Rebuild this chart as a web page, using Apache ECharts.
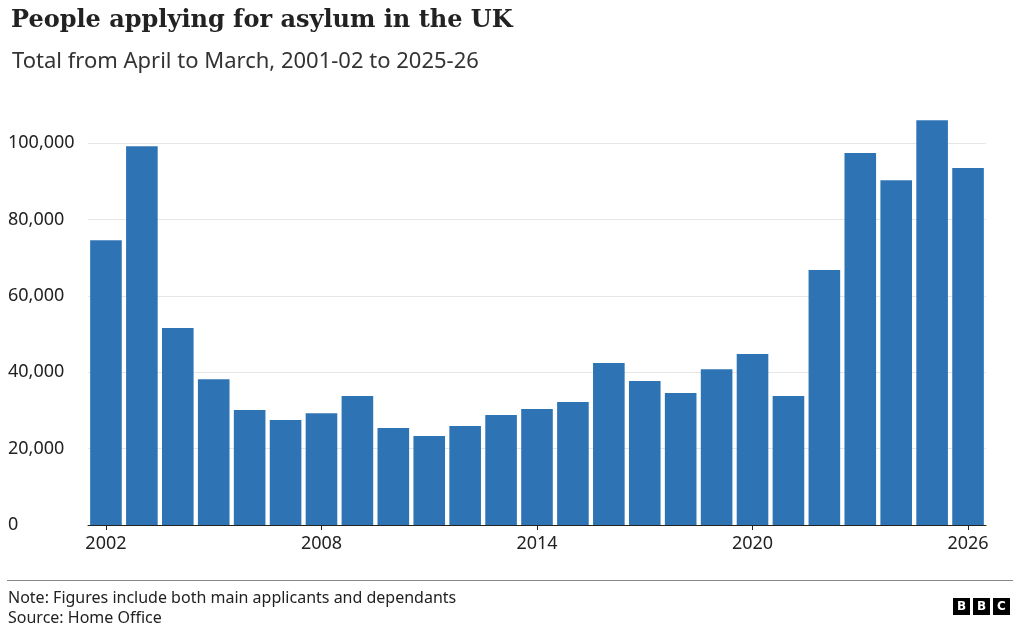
<!DOCTYPE html>
<html><head><meta charset="utf-8">
<script src="https://cdn.jsdelivr.net/npm/echarts@6/dist/echarts.min.js"></script>
<style>html,body{margin:0;padding:0;background:#fff}#c{width:1020px;height:629px}</style>
</head><body><div id="c"></div>
<script>
const years = ['2002','2003','2004','2005','2006','2007','2008','2009','2010','2011','2012','2013','2014','2015','2016','2017','2018','2019','2020','2021','2022','2023','2024','2025','2026'];
const applicants = [74600,99200,51600,38200,30100,27500,29300,33800,25400,23300,25900,28800,30400,32200,42400,37700,34600,40800,44800,33800,66800,97400,90300,106000,93500];
const yTicks = [0,20000,40000,60000,80000,100000];

const chart = echarts.init(document.getElementById('c'));
const sans = 'Noto Sans';
chart.setOption({
  animation:false,
  title:[
    {text:'People applying for asylum in the UK',left:6,top:4,textStyle:{fontFamily:'DejaVu Serif',fontSize:24,fontWeight:'bold',color:'#222'}},
    {text:'Total from April to March, 2001-02 to 2025-26',left:7,top:46,textStyle:{fontFamily:sans,fontSize:22,fontWeight:'normal',color:'#333'}}
  ],
  grid:{left:88,right:34,top:105,bottom:104},
  xAxis:{type:'category',data:years,
    axisLine:{lineStyle:{color:'#222',width:1}},
    axisTick:{show:true,interval:5,alignWithLabel:true,length:5,lineStyle:{color:'#222'}},
    axisLabel:{interval:5,fontFamily:sans,fontSize:18,color:'#222',margin:10}},
  yAxis:{type:'value',min:0,max:110000,interval:20000,
    axisLabel:{fontFamily:sans,fontSize:18,color:'#222',align:'left',margin:80,
      formatter:v=>yTicks.includes(v)?v.toLocaleString('en-US'):''},
    splitLine:{showMaxLine:false,lineStyle:{color:'#e6e6e6'}},axisLine:{show:false},axisTick:{show:false}},
  series:[{type:'bar',data:applicants,barCategoryGap:'12%',itemStyle:{color:'#2e74b5'}}],
  graphic:[
    {type:'rect',shape:{x:7,y:580,width:1006,height:1},style:{fill:'#888'}},
    {type:'text',left:8,top:590,style:{text:'Note: Figures include both main applicants and dependants',font:'16px Noto Sans',fill:'#222'}},
    {type:'text',left:8,top:610,style:{text:'Source: Home Office',font:'16px Noto Sans',fill:'#222'}},
    ...['B','B','C'].map((ch,i)=>({type:'group',left:953+i*20,top:598,children:[
      {type:'rect',shape:{x:0,y:0,width:17,height:17},style:{fill:'#000'}},
      {type:'text',style:{text:ch,x:8.5,y:9,align:'center',verticalAlign:'middle',font:'bold 12px DejaVu Sans',fill:'#fff'}}]}))
  ]
});
</script></body></html>
